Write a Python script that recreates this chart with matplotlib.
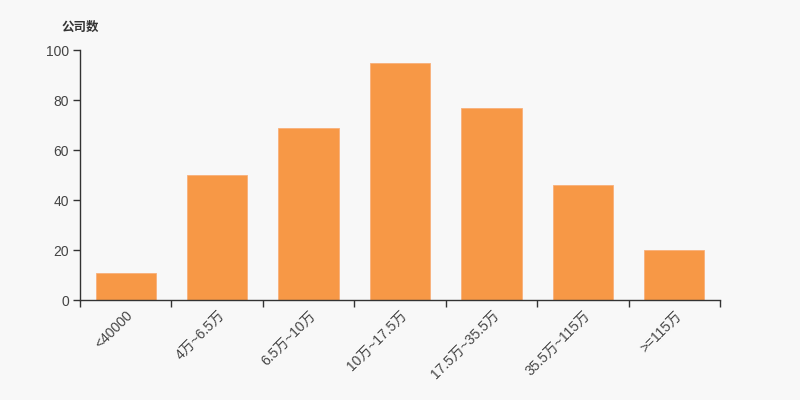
import matplotlib
matplotlib.use("Agg")
import matplotlib.pyplot as plt
import numpy as np

categories = ["<40000", "4万~6.5万", "6.5万~10万", "10万~17.5万", "17.5万~35.5万", "35.5万~115万", ">=115万"]
values = [11, 50, 69, 95, 77, 46, 20]
yticks = [0, 20, 40, 60, 80, 100]

plt.rcParams['font.family'] = ['Liberation Sans', 'Noto Sans CJK SC', 'DejaVu Sans']

bg = "#f8f8f8"
fig = plt.figure(figsize=(8, 4), dpi=100, facecolor=bg)
ax = fig.add_axes([0.1, 0.25, 0.8, 0.625], facecolor=bg)

x = np.arange(len(categories))
ax.bar(x, values, width=0.66, color="#f79846", edgecolor="#f9b07a", linewidth=0.6, zorder=2)

ax.set_xlim(-0.5, len(categories) - 0.5)
ax.set_ylim(0, 100)
ax.set_yticks(yticks)
ax.set_yticklabels([str(v) for v in yticks], fontsize=10, color="#444444")

ax.set_xticks(x)
ax.set_xticklabels(categories, rotation=45, ha="right", rotation_mode="anchor", fontsize=10, color="#444444")
ax.tick_params(axis="x", which="major", length=0, pad=6)
ax.set_xticks(np.arange(-0.5, len(categories), 1.0), minor=True)
ax.tick_params(axis="x", which="minor", length=5, color="#333333", width=1)
ax.tick_params(axis="y", length=5, color="#333333", width=1, pad=3)

for s in ["top", "right"]:
    ax.spines[s].set_visible(False)
for s in ["left", "bottom"]:
    ax.spines[s].set_color("#333333")
    ax.spines[s].set_linewidth(1)

fig.text(0.0775, 0.93, "公司数", fontsize=9, fontweight="bold", color="#333333", va="center", ha="left")

fig.savefig("out.png", dpi=100, facecolor=bg)
